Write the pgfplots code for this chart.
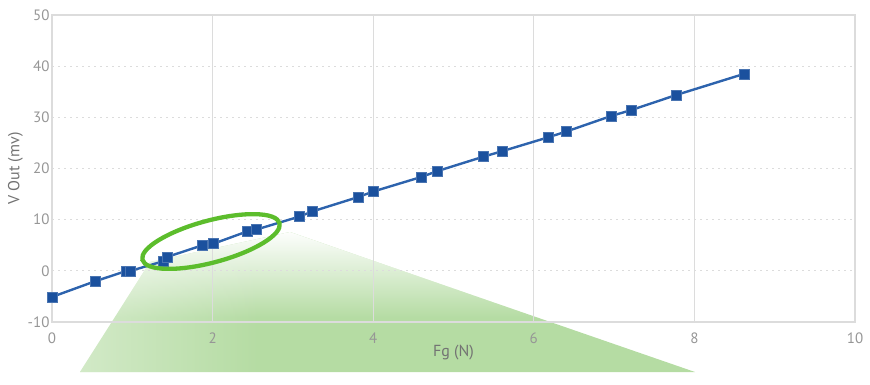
\documentclass[border=0pt]{standalone}
\usepackage{pgfplots}
\pgfplotsset{compat=1.18}
\usetikzlibrary{fadings}
\usepackage{fontspec}
\setmainfont{PT Sans}
\definecolor{tickgray}{HTML}{969696}
\definecolor{gridgray}{HTML}{DCDCDC}
\definecolor{lineblue}{HTML}{2D63AD}
\definecolor{markblue}{HTML}{1B519E}
\definecolor{shgreen}{HTML}{B5DCA3}
\definecolor{ringgreen}{HTML}{5CBD2C}
\tikzfading[name=fade right, left color=transparent!0, right color=transparent!100]
\tikzfading[name=fade down, top color=transparent!0, bottom color=transparent!100]
\begin{document}
\begin{tikzpicture}
\useasboundingbox (0pt,0pt) rectangle (870pt,384pt);
\fill[shgreen]
  (150pt,122pt) -- (290pt,152pt) -- (695pt,12pt) -- (80pt,12pt) -- cycle;
\begin{scope}
\clip (150pt,122pt) -- (290pt,152pt) -- (695pt,12pt) -- (80pt,12pt) -- cycle;
\fill[white, path fading=fade down] (60pt,66pt) rectangle (710pt,154pt);
\fill[white, fill opacity=0.4, path fading=fade right] (78pt,10pt) rectangle (260pt,154pt);
\end{scope}
\begin{axis}[
  at={(52pt,62pt)}, anchor=south west,
  scale only axis, width=803pt, height=307pt,
  xmin=0, xmax=10, ymin=-10, ymax=50,
  xtick={0,2,...,10}, ytick={-10,0,...,50},
  axis line style={draw=gridgray, line width=1.2pt},
  tick style={draw=none},
  xmajorgrids, ymajorgrids,
  major x grid style={draw=gridgray, line width=1.2pt},
  major y grid style={draw=gridgray, line width=1.2pt, dash pattern=on 2pt off 4pt},
  tick label style={font=\fontsize{15}{17}\selectfont, text=tickgray},
  xticklabel style={yshift=-7pt},
  yticklabel style={xshift=1pt},
  /pgf/number format/assume math mode=true,
  xlabel={Fg (N)}, ylabel={V Out (mv)},
  label style={font=\fontsize{16}{18}\selectfont, text=black!55},
  xlabel style={yshift=5pt},
  ylabel style={yshift=-2pt},
  clip=false,
]
\addplot[color=lineblue, line width=2.4pt, mark=square*,
  mark size=5pt, mark options={fill=markblue, draw=markblue!80!white, line width=0.6pt, solid}]
coordinates {
(0,-5.1) (0.535,-2.05) (0.93,0) (0.98,0) (1.38,1.85) (1.43,2.7)
(1.875,5.0) (2.01,5.3) (2.43,7.7) (2.54,8.05) (3.08,10.6) (3.24,11.6)
(3.81,14.4) (4.0,15.5) (4.6,18.35) (4.8,19.5) (5.37,22.3) (5.61,23.4)
(6.18,26.1) (6.40,27.2) (6.97,30.3) (7.21,31.4) (7.78,34.4) (8.62,38.5)
};
\end{axis}
\draw[ringgreen, line width=4.3pt, rotate around={15:(211pt,142.5pt)}] (211pt,142.5pt) ellipse (71pt and 21pt);
\end{tikzpicture}
\end{document}
